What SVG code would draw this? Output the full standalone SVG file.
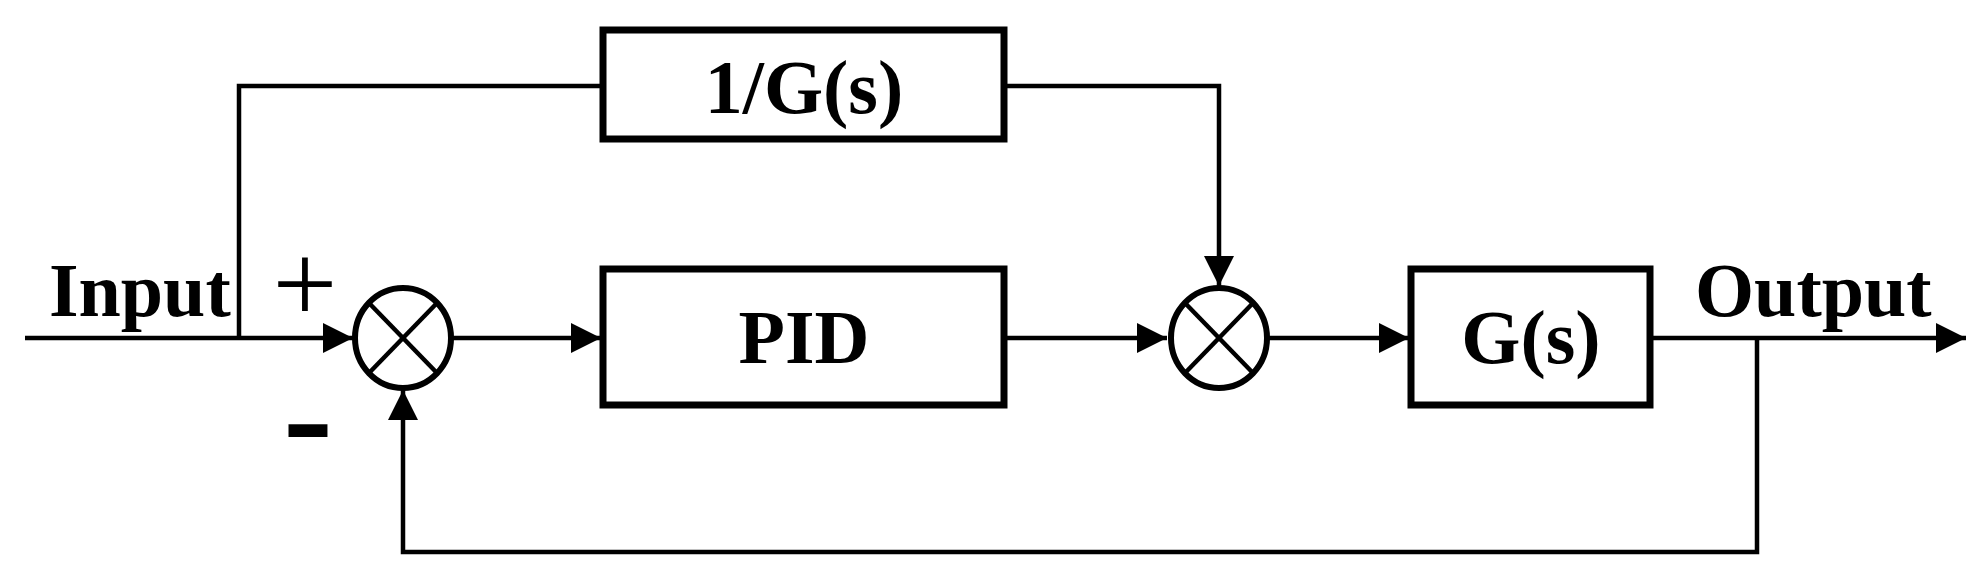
<svg xmlns="http://www.w3.org/2000/svg" width="1982" height="586" viewBox="0 0 1982 586">
<style>
.box{fill:#fff;stroke:#000;stroke-width:7}
.ln{fill:none;stroke:#000;stroke-width:4.5}
.sum{fill:#fff;stroke:#000;stroke-width:6}
.x{stroke:#000;stroke-width:4.5}
text{font-family:"Liberation Serif","Times New Roman",serif;font-weight:bold;font-size:76px;fill:#000}
text.plus{font-weight:normal;font-size:115px}
text.minus{font-size:150px}
</style>
<defs>
<marker id="ah" markerUnits="userSpaceOnUse" markerWidth="30" markerHeight="30" viewBox="0 0 30 30" refX="30" refY="15" orient="auto">
<path d="M0,0 L30,15 L0,30 Z" fill="#000"/>
</marker>
</defs>
<g id="connectors">
<path class="ln" d="M25,338 H353" marker-end="url(#ah)"/>
<path class="ln" d="M239,338 V86 H603"/>
<path class="ln" d="M1004,86 H1219 V286" marker-end="url(#ah)"/>
<path class="ln" d="M452,338 H601" marker-end="url(#ah)"/>
<path class="ln" d="M1004,338 H1167" marker-end="url(#ah)"/>
<path class="ln" d="M1269,338 H1409" marker-end="url(#ah)"/>
<path class="ln" d="M1650,338 H1966" marker-end="url(#ah)"/>
<path class="ln" d="M1757,338 V552 H403 V390" marker-end="url(#ah)"/>
</g>
<g id="inv">
<rect class="box" x="603" y="30" width="401" height="109"/>
<text x="804" y="113" text-anchor="middle">1/G(s)</text>
</g>
<g id="pid">
<rect class="box" x="603" y="269" width="401" height="136"/>
<text x="804" y="363" text-anchor="middle">PID</text>
</g>
<g id="plant">
<rect class="box" x="1411" y="269" width="239" height="136"/>
<text x="1531" y="363" text-anchor="middle">G(s)</text>
</g>
<g id="sum1">
<ellipse class="sum" cx="403" cy="338" rx="48" ry="50"/>
<line class="x" x1="369" y1="303" x2="437" y2="373"/>
<line class="x" x1="437" y1="303" x2="369" y2="373"/>
</g>
<g id="sum2">
<ellipse class="sum" cx="1219" cy="338" rx="48" ry="50"/>
<line class="x" x1="1185" y1="303" x2="1253" y2="373"/>
<line class="x" x1="1253" y1="303" x2="1185" y2="373"/>
</g>
<g id="labels">
<text x="49" y="316">Input</text>
<text x="1695" y="316">Output</text>
<text class="plus" x="305" y="322" text-anchor="middle">+</text>
<text class="minus" x="308" y="466" text-anchor="middle">-</text>
</g>
</svg>
